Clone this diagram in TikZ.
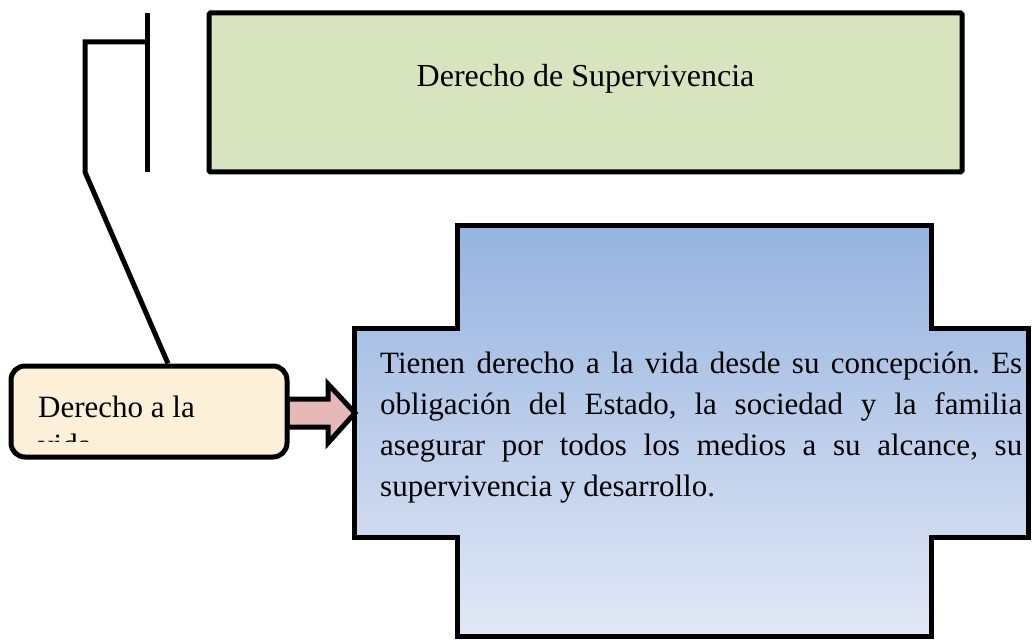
\documentclass[tikz,border=0pt]{standalone}
\usepackage{fontspec}
\setmainfont{Liberation Serif}
\frenchspacing
\definecolor{greenfill}{RGB}{215,228,189}
\definecolor{yellowfill}{RGB}{253,240,217}
\definecolor{pinkfill}{RGB}{230,185,184}
\definecolor{bluetop}{RGB}{149,179,224}
\definecolor{bluebot}{RGB}{226,232,245}
\tikzset{
  thickline/.style={line width=5pt, draw=black},
  greenbox/.style={thickline, fill=greenfill, rounded corners=1.5pt},
  yellowbox/.style={thickline, fill=yellowfill, rounded corners=14pt, rectangle, minimum width=276pt, minimum height=91pt, inner sep=0pt},
  pinkarrow/.style={thickline, fill=pinkfill, line join=miter},
  bluecross/.style={thickline, top color=bluetop, bottom color=bluebot, line join=miter},
  bigtext/.style={font=\fontsize{31}{41}\selectfont},
}
\begin{document}
\frenchspacing
\begin{tikzpicture}[x=1pt,y=-1pt]
\useasboundingbox (0,0) rectangle (1032,639);
% green title box
\draw[greenbox] (209,13) rectangle (962,172);
\node[font=\fontsize{32}{40}\selectfont, anchor=base] (title) at (585.5,87) {Derecho de Supervivencia};
% bracket
\coordinate (b1) at (147,13);
\coordinate (b2) at (147,172);
\coordinate (b3) at (147,42);
\coordinate (b4) at (85,42);
\coordinate (b5) at (85,172);
\draw[thickline] (b1) -- (b2);
% blue cross
\path[bluecross] (457,225) -- (931,225) -- (931,328) -- (1028,328) -- (1028,537) -- (931,537) -- (931,636) -- (457,636) -- (457,537) -- (354,537) -- (354,328) -- (457,328) -- cycle;
\node[bigtext, anchor=base west, text width=642pt, align=justify, inner sep=0pt] (desc) at (380,373) {\frenchspacing Tienen derecho a la vida desde su concepción. Es\linebreak obligación del Estado, la sociedad y la familia\linebreak asegurar por todos los medios a su alcance, su\linebreak supervivencia y desarrollo.};
% arrow
\draw[pinkarrow] (287,399) -- (328,399) -- (328,384) -- (355,413) -- (328,443) -- (328,427) -- (287,427) -- cycle;
% yellow box
\node[yellowbox] (vida) at (149,411.5) {};
\begin{scope}
\clip (14,370) rectangle (285,441);
\node[bigtext, anchor=base west, inner sep=0pt] (vidatext1) at (38,417) {Derecho a la};
\node[bigtext, anchor=base west, inner sep=0pt] (vidatext2) at (38,455) {vida};
\end{scope}
\draw[thickline, line join=miter] (b3) -- (b4) -- (b5) -- (vida.north -| 168,0);
\end{tikzpicture}
\end{document}
